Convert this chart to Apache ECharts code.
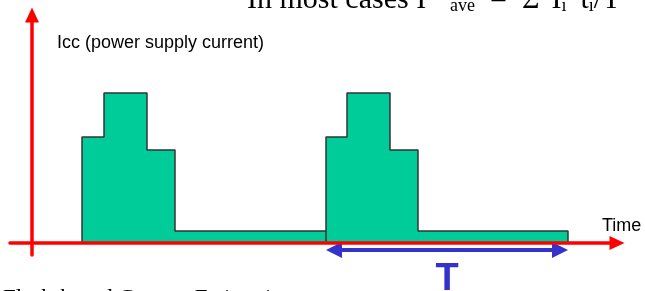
<!DOCTYPE html>
<html>
<head>
<meta charset="utf-8">
<script src="https://cdn.jsdelivr.net/npm/echarts@6/dist/echarts.min.js"></script>
<style>
  html, body { margin: 0; padding: 0; background: #fff; }
  #main { width: 645px; height: 291px; }
</style>
</head>
<body>
<div id="main"></div>
<script>
// step edges along the time axis and the current level between each pair of edges
var edges = [50, 72, 115, 143, 294, 315, 358, 386, 536];
var levels = [106, 150, 93, 12, 106, 150, 93, 12];
var pulseStarts = [50, 294];
// one period T, from start of 2nd pulse to end of its low phase
var period = [294, 536];

var HEAD = 16;
var SERIF = 'Liberation Serif, Times New Roman';

// build the outline of the current waveform
var wave = [];
for (var i = 0; i < levels.length; i++) {
  if (pulseStarts.indexOf(edges[i]) >= 0) {
    wave.push([edges[i], 0]);
  }
  wave.push([edges[i], levels[i]]);
  wave.push([edges[i + 1], levels[i]]);
}
wave.push([edges[edges.length - 1], 0]);

function main(pad) {
  return { fontFamily: SERIF, fontSize: 30, lineHeight: 30, fill: '#000', verticalAlign: 'bottom', padding: [0, 0, 0, pad] };
}
function sub(pad) {
  return { fontFamily: SERIF, fontSize: 18, lineHeight: 10, fill: '#000', verticalAlign: 'bottom', padding: [0, 0, 0, pad] };
}

var chart = echarts.init(document.getElementById('main'));

chart.setOption({
  animation: false,
  grid: { left: 10, right: 28, top: 15, bottom: 36 },
  xAxis: {
    type: 'value',
    min: -22,
    max: 585,
    z: 5,
    name: 'Time',
    nameLocation: 'end',
    nameGap: -15,
    nameTextStyle: {
      fontFamily: 'Liberation Sans, Arial',
      fontSize: 18,
      color: '#000',
      align: 'left',
      verticalAlign: 'bottom',
      padding: [0, 0, 8, 0]
    },
    axisLine: {
      onZero: true,
      symbol: ['none', 'triangle'],
      symbolSize: [14, 15],
      lineStyle: { color: '#ff0000', width: 3.5 }
    },
    axisTick: { show: false },
    axisLabel: { show: false },
    splitLine: { show: false }
  },
  yAxis: {
    type: 'value',
    min: -12,
    max: 228,
    z: 5,
    name: 'Icc (power supply current)',
    nameLocation: 'end',
    nameGap: -28,
    nameTextStyle: {
      fontFamily: 'Liberation Sans, Arial',
      fontSize: 18,
      color: '#000',
      align: 'left',
      verticalAlign: 'middle',
      padding: [0, 0, 0, 25]
    },
    axisLine: {
      onZero: true,
      symbol: ['none', 'triangle'],
      symbolSize: [14, 15],
      lineStyle: { color: '#ff0000', width: 3.5 }
    },
    axisTick: { show: false },
    axisLabel: { show: false },
    splitLine: { show: false }
  },
  graphic: [
    {
      type: 'text',
      left: 247,
      top: -15,
      style: {
        text: '{a|In most cases I}{b|ave}{c|=}{d|Σ}{e|I}{f|i}{g|·}{h|t}{f|i}{k|/}{m|T}',
        rich: {
          a: main(0),
          b: sub(24),
          c: main(15),
          d: main(15),
          e: main(12),
          f: sub(0),
          g: main(2),
          h: main(2),
          k: main(0),
          m: main(0)
        }
      }
    },
    {
      type: 'text',
      left: 3,
      top: 287,
      style: {
        text: 'Flash-based Current Estimation',
        fontFamily: SERIF,
        fontSize: 23,
        fill: '#000'
      }
    }
  ],
  series: [
    {
      type: 'line',
      data: wave,
      symbol: 'none',
      silent: true,
      lineStyle: { color: '#333', width: 1.5 },
      areaStyle: { color: '#00cc99', opacity: 1 },
      markLine: {
        silent: true,
        symbol: ['triangle', 'triangle'],
        symbolSize: [HEAD, HEAD],
        lineStyle: { color: '#3333cc', width: 4, type: 'solid' },
        label: {
          show: true,
          formatter: 'T',
          position: 'insideMiddleBottom',
          distance: 11,
          color: '#3333cc',
          fontFamily: 'Liberation Sans, Arial',
          fontWeight: 'bold',
          fontSize: 38
        },
        emphasis: { disabled: true },
        data: [[
          { coord: [period[0] + HEAD / 2, -7] },
          { coord: [period[1] - HEAD / 2, -7] }
        ]]
      }
    }
  ]
});
</script>
</body>
</html>
